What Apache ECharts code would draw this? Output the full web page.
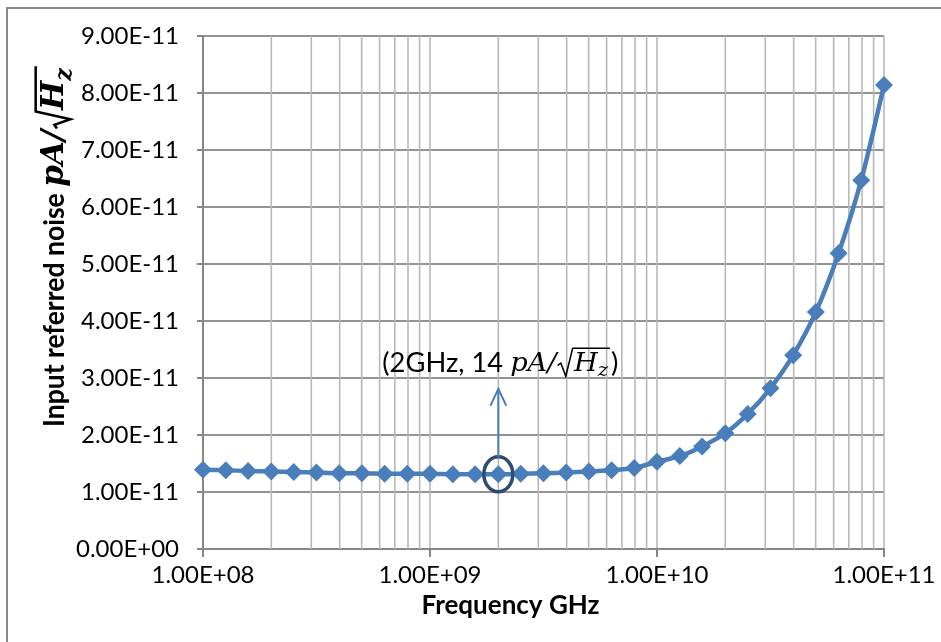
<!DOCTYPE html>
<html>
<head>
<meta charset="utf-8">
<script src="https://cdn.jsdelivr.net/npm/echarts@6/dist/echarts.min.js"></script>
<style>html,body{margin:0;padding:0;background:#fff}#c{width:941px;height:642px}</style>
</head>
<body>
<div id="c"></div>
<script>
// ---- data ----
const freqHz = [1.00e8, 1.26e8, 1.58e8, 2.00e8, 2.51e8, 3.16e8, 3.98e8, 5.01e8, 6.31e8, 7.94e8,
                1.00e9, 1.26e9, 1.58e9, 2.00e9, 2.51e9, 3.16e9, 3.98e9, 5.01e9, 6.31e9, 7.94e9,
                1.00e10, 1.26e10, 1.58e10, 2.00e10, 2.51e10, 3.16e10, 3.98e10, 5.01e10, 6.31e10, 7.94e10,
                1.00e11];
const noise = [1.39e-11, 1.38e-11, 1.37e-11, 1.36e-11, 1.35e-11, 1.34e-11, 1.33e-11, 1.33e-11, 1.32e-11, 1.32e-11,
               1.32e-11, 1.31e-11, 1.31e-11, 1.31e-11, 1.32e-11, 1.33e-11, 1.34e-11, 1.36e-11, 1.38e-11, 1.42e-11,
               1.53e-11, 1.63e-11, 1.80e-11, 2.03e-11, 2.37e-11, 2.82e-11, 3.40e-11, 4.16e-11, 5.19e-11, 6.47e-11,
               8.14e-11];
const xTickLabels = ['1.00E+08', '1.00E+09', '1.00E+10', '1.00E+11'];
const yTickLabels = ['0.00E+00', '1.00E-11', '2.00E-11', '3.00E-11', '4.00E-11', '5.00E-11',
                     '6.00E-11', '7.00E-11', '8.00E-11', '9.00E-11'];
const xTitle = 'Frequency GHz';
const yTitlePrefix = 'Input referred noise ';
const annotPrefix = '(2GHz, 14 ';
const annotIndex = 13;          // the 2 GHz point
const annotTextY = 3.25e-11;    // label level
const arrowFromY = 1.61e-11;
const arrowToY = 2.81e-11;

const X_MIN = 1e8, X_MAX = 1e11, Y_MIN = 0, Y_MAX = 9e-11, Y_STEP = 1e-11;

// minor vertical grid values (2..9 per decade)
const minorX = [];
[1e8, 1e9, 1e10].forEach(d => { for (let m = 2; m <= 9; m++) minorX.push([m * d, 0]); });

const BLUE = '#4A7EBB';
const chart = echarts.init(document.getElementById('c'));

chart.setOption({
  backgroundColor: '#fff',
  animation: false,
  grid: { left: 203, right: 57, top: 36, bottom: 93 },
  xAxis: {
    type: 'log', logBase: 10, min: X_MIN, max: X_MAX,
    name: xTitle, nameLocation: 'middle', nameGap: 44,
    nameTextStyle: { fontFamily: 'Lato', fontWeight: 'bold', fontSize: 26, color: '#000',
                     padding: [0, 66, 0, 0] },
    axisLine: { lineStyle: { color: '#868686', width: 2 } },
    axisTick: { show: true, length: 8, lineStyle: { color: '#868686', width: 2 } },
    axisLabel: { fontFamily: 'Lato', fontSize: 24, color: '#000', margin: 14,
      formatter: (v, i) => xTickLabels[Math.round(Math.log10(v)) - 8] },
    splitLine: { show: true, lineStyle: { color: '#b8b8b8', width: 1.6 } },
    minorTick: { show: false }, minorSplitLine: { show: false }
  },
  yAxis: {
    type: 'value', min: Y_MIN, max: Y_MAX, interval: Y_STEP,
    axisLine: { show: true, lineStyle: { color: '#868686', width: 2 } },
    axisTick: { show: true, length: 6, lineStyle: { color: '#868686', width: 2 } },
    axisLabel: { fontFamily: 'Lato', fontSize: 24, color: '#000', margin: 24,
      formatter: (v) => yTickLabels[Math.round(v / Y_STEP)] },
    splitLine: { show: true, lineStyle: { color: '#939393', width: 2 } }
  },
  series: [
    {
      type: 'custom', z: 1, silent: true,
      data: minorX,
      encode: { x: 0, y: 1 },
      renderItem: (params, api) => {
        const x = api.value(0);
        const p1 = api.coord([x, Y_MIN]);
        const p2 = api.coord([x, Y_MAX]);
        return { type: 'line', shape: { x1: p1[0], y1: p1[1], x2: p2[0], y2: p2[1] },
                 style: { stroke: '#b8b8b8', lineWidth: 1.6 } };
      }
    },
    {
      type: 'line', z: 3,
      data: freqHz.map((f, i) => [f, noise[i]]),
      smooth: 0.25,
      symbol: 'diamond', symbolSize: [18, 18],
      lineStyle: { color: BLUE, width: 4.5 },
      itemStyle: { color: BLUE },
      silent: true
    }
  ]
});

// ---- helpers for text with a square root ----
const mctx = document.createElement('canvas').getContext('2d');
function measure(t, f) { mctx.font = f; return mctx.measureText(t).width; }

function unitChildren(prefix, prefixFont, mathSize, bold, suffix) {
  const w8 = bold ? 'bold ' : '';
  const fMath = `italic ${w8}${mathSize}px "DejaVu Serif"`;
  const subSize = Math.round(mathSize * 0.72);
  const fSub = `italic ${w8}${subSize}px "DejaVu Serif"`;
  const kids = [];
  let x = 0;
  function addText(text, font, dy) {
    kids.push({ type: 'text', x: x, y: dy, z: 100,
      style: { text: text, font: font, fill: '#000', align: 'left', verticalAlign: 'middle' } });
    x += measure(text, font);
  }
  addText(prefix, prefixFont, 0);
  addText('pA/', fMath, 0);
  const s = mathSize;
  const top = -0.6 * s, bot = 0.48 * s;
  const r0 = x + 0.04 * s;
  const pts = [[r0, 0.06 * s], [r0 + 0.12 * s, -0.02 * s], [r0 + 0.3 * s, bot], [r0 + 0.55 * s, top]];
  x = r0 + 0.6 * s;
  addText('H', fMath, 0);
  addText('z', fSub, 0.3 * s);
  pts.push([x + 0.06 * s, top]);
  x += 0.1 * s;
  kids.push({ type: 'polyline', z: 100, shape: { points: pts },
    style: { stroke: '#000', lineWidth: bold ? 2.2 : 1.5, fill: null, lineJoin: 'miter' } });
  if (suffix) addText(suffix, prefixFont, 0);
  return { kids: kids, width: x };
}

function placeAnnotations() {
  const pt = chart.convertToPixel({ seriesIndex: 1 }, [freqHz[annotIndex], noise[annotIndex]]);
  const a0 = chart.convertToPixel({ seriesIndex: 1 }, [freqHz[annotIndex], arrowFromY]);
  const a1 = chart.convertToPixel({ seriesIndex: 1 }, [freqHz[annotIndex], arrowToY]);
  const tp = chart.convertToPixel({ seriesIndex: 1 }, [freqHz[annotIndex], annotTextY]);

  const ann = unitChildren(annotPrefix, '26px Lato', 26, false, ')');
  const annTarget = 236;
  const annScale = annTarget / ann.width;

  const ttl = unitChildren(yTitlePrefix, 'bold 24px Lato', 28, true, '');
  const ttlTarget = 362;
  const ttlScale = ttlTarget / ttl.width;

  chart.setOption({
    graphic: [
      { type: 'rect', z: 0, silent: true, shape: { x: 7, y: 8, width: 1000, height: 1000 },
        style: { fill: null, stroke: '#8a8a8a', lineWidth: 2 } },
      { type: 'ellipse', z: 100, shape: { cx: pt[0], cy: pt[1], rx: 14.5, ry: 17.5 },
        style: { fill: null, stroke: '#2E4B72', lineWidth: 3.5 } },
      { type: 'line', z: 100, shape: { x1: a0[0], y1: a0[1], x2: a1[0], y2: a1[1] },
        style: { stroke: BLUE, lineWidth: 2 } },
      { type: 'polyline', z: 100,
        shape: { points: [[a1[0] - 8, a1[1] + 17], [a1[0], a1[1]], [a1[0] + 8, a1[1] + 17]] },
        style: { stroke: BLUE, lineWidth: 2, fill: null } },
      { type: 'group', x: tp[0] + 2 - annTarget / 2, y: tp[1], scaleX: annScale, scaleY: 1,
        children: ann.kids },
      { type: 'group', x: 55, y: 427, rotation: Math.PI / 2, scaleX: ttlScale, scaleY: 1.15,
        children: ttl.kids }
    ]
  });
}
placeAnnotations();
</script>
</body>
</html>
